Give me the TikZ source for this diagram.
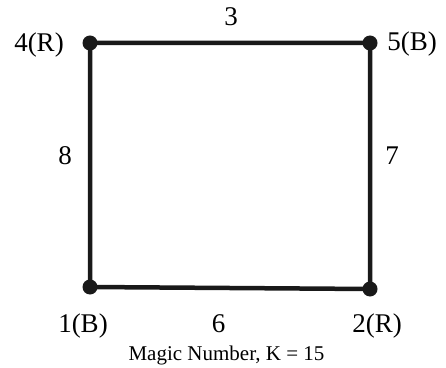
\documentclass[tikz,border=0pt]{standalone}
\usepackage{fontspec}
\setmainfont{Liberation Serif}
\begin{document}
\begin{tikzpicture}[x=1pt,y=1pt,
  vtx/.style={circle,fill=black!90,inner sep=0pt,minimum size=15pt},
  sideline/.style={line width=4.5pt,draw=black!90},
  lbl/.style={anchor=base,inner sep=0pt,font=\fontsize{27}{31}\selectfont},
  captext/.style={anchor=base,inner sep=0pt,font=\fontsize{21}{25}\selectfont}]
\useasboundingbox (0,0) rectangle (446,367);
\coordinate (p4) at (90,324);
\coordinate (p5) at (370,324);
\coordinate (p1) at (90,80);
\coordinate (p2) at (370,78);
\draw[sideline] (p4) -- (p5) -- (p2) -- (p1) -- cycle;
\node[vtx] (v4) at (p4) {};
\node[vtx] (v5) at (p5) {};
\node[vtx] (v1) at (p1) {};
\node[vtx] (v2) at (p2) {};
\node[lbl] (l4) at (39,315) {4(R)};
\node[lbl] (l5) at (412,316) {5(B)};
\node[lbl] (l1) at (83,35) {1(B)};
\node[lbl] (l2) at (377,35) {2(R)};
\node[lbl] (e3) at (231,341) {3};
\node[lbl] (e8) at (65,202) {8};
\node[lbl] (e7) at (392,202) {7};
\node[lbl] (e6) at (218.5,35) {6};
\node[captext] (mk) at (226.5,7) {Magic Number, K = 15};
\end{tikzpicture}
\end{document}
